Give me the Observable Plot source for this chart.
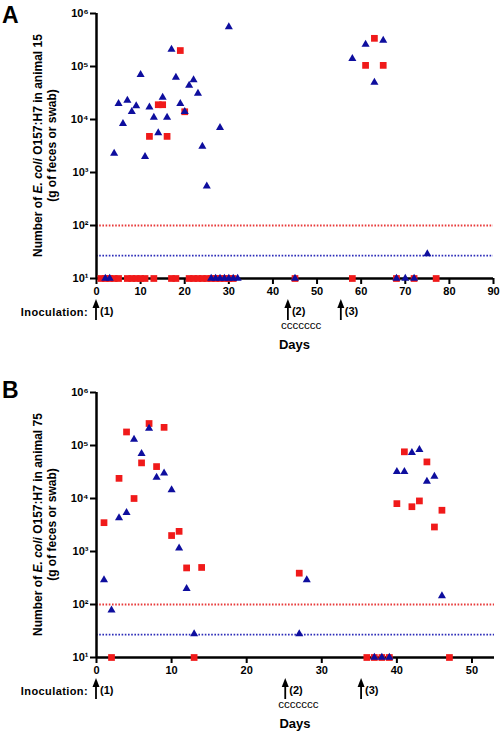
<!DOCTYPE html>
<html><head><meta charset="utf-8">
<script src="https://cdn.jsdelivr.net/npm/d3@7"></script>
<script src="https://cdn.jsdelivr.net/npm/@observablehq/plot@0.6"></script>
<style>
body{margin:0;background:#fff;}
#chart svg{display:block;}
</style></head><body><div id="chart"></div>
<script>
// ---------- shared ----------
const yTicks = [10, 100, 1000, 10000, 100000, 1000000];
const yTickLabels = ["10\u00B9", "10\u00B2", "10\u00B3", "10\u2074", "10\u2075", "10\u2076"];
const limitFeces = 100;   // red dotted line
const limitSwab = 27;     // blue dotted line
const baselineValue = 10;
const inocLabels = ["(1)", "(2)", "(3)"];
const xLabel = "Days";
const inocText = "Inoculation:";
const codeText = "ccccccc";

// ---------- Panel A : animal 15 ----------
const aXTicks = [0, 10, 20, 30, 40, 50, 60, 70, 80, 90];
const aSquareDays = [19, 14, 15, 20, 12, 16, 63, 61, 65];
const aSquareVals = [200000, 19000, 19000, 14000, 4800, 4800, 340000, 105000, 105000];
const aSquareBaseDays = [1, 2, 3, 4, 5, 7, 8, 9, 10, 11, 13, 17, 18, 21, 22, 23, 24, 25, 26, 27, 28, 29, 30, 31, 45, 58, 68, 72, 77];
const aTriDays = [30, 17, 10, 18, 22, 21, 23, 15, 5, 7, 9, 8, 12, 19, 20, 13, 16, 6, 28, 14, 24, 4, 11, 25, 58, 61, 63, 65, 75];
const aTriVals = [560000, 210000, 70000, 62000, 56000, 44000, 31000, 26000, 20000, 23000, 18000, 14000, 17000, 20000, 14000, 11000, 11000, 8300, 7000, 5600, 3100, 2300, 2000, 550, 140000, 260000, 50000, 310000, 29];
const aTriBaseDays = [2, 3, 26, 27, 28, 29, 30, 31, 32, 45, 68, 70, 72];
const aInocDays = [0, 43.5, 55.5];

// ---------- Panel B : animal 75 ----------
const bXTicks = [0, 10, 20, 30, 40, 50];
const bSquareDays = [1, 3, 4, 5, 6, 7, 8, 9, 10, 11, 12, 14, 27, 41, 44, 40, 42, 43, 46, 45];
const bSquareVals = [3500, 24000, 180000, 10000, 47000, 260000, 40000, 220000, 2000, 2400, 490, 500, 390, 76000, 49000, 8000, 7000, 9000, 6000, 2900];
const bSquareBaseDays = [2, 13, 36, 37, 38, 39, 47];
const bTriDays = [3, 4, 5, 6, 7, 8, 9, 10, 11, 12, 1, 2, 13, 28, 46, 27, 42, 43, 40, 41, 44, 45];
const bTriVals = [4300, 5400, 130000, 70000, 210000, 25000, 30000, 14500, 1150, 200, 290, 78, 28, 290, 145, 28, 73000, 83000, 32000, 32000, 21000, 26000];
const bTriBaseDays = [37, 38, 39];
const bInocDays = [0, 25.2, 35.3];

const FONT = "'Liberation Sans', Arial, Helvetica, sans-serif";
const RED = "#f01a1a";
const BLUE = "#0e0e9e";

function panel({letter, letterY, animal, xMax, xTicks, height, marginTop, marginBottom, marginRight,
                sqDays, sqVals, sqBase, trDays, trVals, trBase, inocDays}) {
  const sq = sqBase.map(d => ({day: d, v: baselineValue}))
    .concat(sqDays.map((d, i) => ({day: d, v: sqVals[i]})));
  const tr = trBase.map(d => ({day: d, v: baselineValue}))
    .concat(trDays.map((d, i) => ({day: d, v: trVals[i]})));
  const chart = Plot.plot({
    width: 500, height, marginLeft: 96, marginRight, marginTop, marginBottom,
    style: {fontFamily: FONT, fontSize: "11px", fontWeight: "bold", color: "#000", background: "#fff"},
    x: {domain: [0, xMax], axis: null},
    y: {type: "log", domain: [10, 1e6], axis: null},
    marks: [
      Plot.ruleY([limitFeces], {stroke: "#e83a3a", strokeWidth: 1.8, strokeDasharray: "1.6,1.6"}),
      Plot.ruleY([limitSwab], {stroke: "#2c2cb8", strokeWidth: 1.8, strokeDasharray: "1.6,1.6"}),
      Plot.axisY({ticks: yTicks, tickFormat: d => yTickLabels[yTicks.indexOf(d)], tickSize: 6, tickPadding: 2,
                  strokeWidth: 2, fontSize: 11, fontWeight: "bold", label: null}),
      Plot.axisX({ticks: xTicks, tickSize: 6, tickPadding: 3, strokeWidth: 2, fontSize: 11, fontWeight: "bold", label: null}),
      Plot.ruleX([0], {strokeWidth: 2.5}),
      Plot.ruleY([baselineValue], {strokeWidth: 2.5}),
      Plot.dot(sq, {x: "day", y: "v", symbol: "square", r: 3.8, fill: RED}),
      Plot.dot(tr, {x: "day", y: "v", symbol: "triangle", r: 3, fill: BLUE})
    ]
  });
  const sx = chart.scale("x");
  const svg = d3.select(chart);
  const axisY = height - marginBottom;
  const x0 = 96, x1 = 500 - marginRight;
  const txt = () => svg.append("text").attr("font-family", FONT).attr("fill", "#000");
  // Panel letter
  txt().attr("x", 2).attr("y", letterY).attr("text-anchor", "start")
    .attr("font-size", 23).attr("font-weight", "bold").text(letter);
  // Y label
  const cy = (marginTop + axisY) / 2;
  const t1 = txt().attr("transform", `translate(42,${cy}) rotate(-90)`)
    .attr("text-anchor", "middle").attr("font-size", 12).attr("font-weight", "bold");
  t1.append("tspan").text("Number of ");
  t1.append("tspan").attr("font-style", "italic").text("E. coli");
  t1.append("tspan").text(" O157:H7 in animal " + animal);
  txt().attr("transform", `translate(56,${cy}) rotate(-90)`)
    .attr("text-anchor", "middle").attr("font-size", 12).attr("font-weight", "bold")
    .text("(g of feces or swab)");
  // Inoculation row
  txt().attr("x", 88).attr("y", axisY + 38).attr("text-anchor", "end")
    .attr("font-size", 11).attr("font-weight", "bold")
    .attr("letter-spacing", 0.4).text(inocText);
  inocDays.forEach((d, i) => {
    const px = sx.apply(d);
    svg.append("line").attr("x1", px).attr("x2", px).attr("y1", axisY + 27).attr("y2", axisY + 42)
      .attr("stroke", "#000").attr("stroke-width", 1.8);
    svg.append("path").attr("d", `M${px},${axisY + 21} L${px - 3.5},${axisY + 30} L${px + 3.5},${axisY + 30} Z`).attr("fill", "#000");
    txt().attr("x", px + 4).attr("y", axisY + 37).attr("text-anchor", "start")
      .attr("font-size", 11).attr("font-weight", "bold").text(inocLabels[i]);
    if (i === 1) {
      txt().attr("x", px - 7).attr("y", axisY + 51).attr("text-anchor", "start")
        .attr("font-size", 11.5).attr("font-weight", "normal").text(codeText);
    }
  });
  txt().attr("x", (x0 + x1) / 2).attr("y", axisY + 71).attr("text-anchor", "middle")
    .attr("font-size", 13).attr("font-weight", "bold").text(xLabel);
  return chart;
}

const root = document.getElementById("chart");
root.appendChild(panel({letter: "A", letterY: 23, animal: 15, xMax: 90, xTicks: aXTicks, height: 365, marginTop: 13, marginBottom: 87, marginRight: 7,
  sqDays: aSquareDays, sqVals: aSquareVals, sqBase: aSquareBaseDays, trDays: aTriDays, trVals: aTriVals, trBase: aTriBaseDays, inocDays: aInocDays}));
root.appendChild(panel({letter: "B", letterY: 33, animal: 75, xMax: 53, xTicks: bXTicks, height: 366, marginTop: 27, marginBottom: 74, marginRight: 6,
  sqDays: bSquareDays, sqVals: bSquareVals, sqBase: bSquareBaseDays, trDays: bTriDays, trVals: bTriVals, trBase: bTriBaseDays, inocDays: bInocDays}));
</script></body></html>
